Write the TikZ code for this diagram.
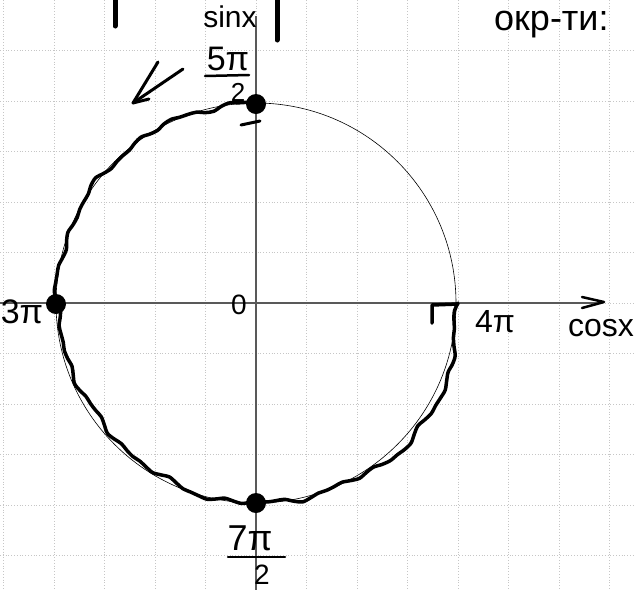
\documentclass[tikz,border=0pt]{standalone}
\usepackage{fontspec}
\setmainfont{Liberation Sans}
\begin{document}
\begin{tikzpicture}[x=1pt,y=-1pt,
  gridline/.style={gray!45,dotted,line width=0.8pt},
  axisline/.style={black!65,line width=1.3pt},
  pen/.style={black,line width=3.5pt,line cap=round,line join=round},
  thinpen/.style={black,line width=0.6pt},
  dot/.style={circle,fill=black,minimum size=20pt,inner sep=0pt},
  lbl/.style={inner sep=0pt,font=\fontsize{#1}{#1}\selectfont},
  declare function={rr(\t)=200+1.4*sin(13*\t)+1.5*sin(23*\t+40)+1.2*sin(41*\t+10)-5/(1+min(50,((\t-215)/25)^2)^2)+7/(1+min(50,((\t-325)/20)^2)^2);}
]
\useasboundingbox (0,0) rectangle (634,590);
\fill[white] (0,0) rectangle (634,590);
% grid
\foreach \i in {0,...,12} \draw[gridline] ({3.5+50.5*\i},0) -- ({3.5+50.5*\i},590);
\foreach \j in {1,...,11} \draw[gridline] (0,{50.5*\j}) -- (634,{50.5*\j});
% axes
\coordinate (O) at (256,303);
\coordinate (xl) at (0,303);
\coordinate (xr) at (600,303);
\coordinate (yt) at (256,16);
\coordinate (yb) at (256,590);
\draw[axisline] (xl) -- (xr);
\draw[axisline] (yt) -- (yb);
% hand drawn arrow tip on x axis
\coordinate (ha1) at (582,297);
\coordinate (ha2) at (604,302);
\coordinate (ha3) at (582,308);
\draw[black,line width=2.5pt,line cap=round,line join=round] (ha1) -- (ha2) -- (ha3);
% unit circle
\draw[thinpen] (O) circle (200);
% thick wavy arc
\draw[pen] plot[smooth,samples=110,domain=90:360] ({256+rr(\x)*cos(\x)},{303-rr(\x)*sin(\x)});
% dots
\node[dot] (top) at (256,104) {};
\node[dot] (left) at (56,304) {};
\node[dot] (bot) at (256,503) {};
% labels
\node[lbl=30] (sin) at (230,17) {sinx};
\node[lbl=32,anchor=east] (cos) at (634,328) {cosx};
\node[lbl=28] (zero) at (239,305) {0};
\node[lbl=34] (three) at (22,312) {3π};
\node[lbl=34] (fivepi) at (228,59) {5π};
\coordinate (fb1) at (205,76);
\coordinate (fb2) at (249,75);
\draw[black,line width=2.5pt,line cap=round] (fb1) -- (fb2);
\node[lbl=26] (two1) at (238,92) {2};
\coordinate (m1) at (241,125);
\coordinate (m2) at (260,121);
\draw[black,line width=3pt,line cap=round] (m1) -- (m2);
\node[lbl=36] (sevenpi) at (250,538) {7π};
\coordinate (bb1) at (228,557);
\coordinate (bb2) at (285,557);
\draw[black,line width=2.5pt,line cap=round] (bb1) -- (bb2);
\node[lbl=28] (two2) at (262,575) {2};
% right end bracket and label
\coordinate (r1) at (432,323);
\coordinate (r2) at (432,305);
\coordinate (r3) at (458,304);
\draw[black,line width=3.5pt,line cap=round,line join=round] (r1) -- (r2) -- (r3);
\node[lbl=32] (fourpi) at (495,322) {4π};
% direction arrow
\coordinate (as) at (183,69);
\coordinate (at) at (133,103);
\coordinate (aa1) at (158,62);
\coordinate (aa2) at (149,99);
\draw[black,line width=3pt,line cap=round,line join=round] (as) -- (at);
\draw[black,line width=3pt,line cap=round,line join=round] (aa1) -- (at) -- (aa2);
% top strokes
\coordinate (s1a) at (115,0);
\coordinate (s1b) at (115,26);
\coordinate (s2a) at (277,0);
\coordinate (s2b) at (277,40);
\draw[black,line width=5pt,line cap=round] (s1a) -- (s1b);
\draw[black,line width=5pt,line cap=round] (s2a) -- (s2b);
% top right text
\node[lbl=36,anchor=base west] (okr) at (494,30) {окр-ти:};
\end{tikzpicture}
\end{document}
